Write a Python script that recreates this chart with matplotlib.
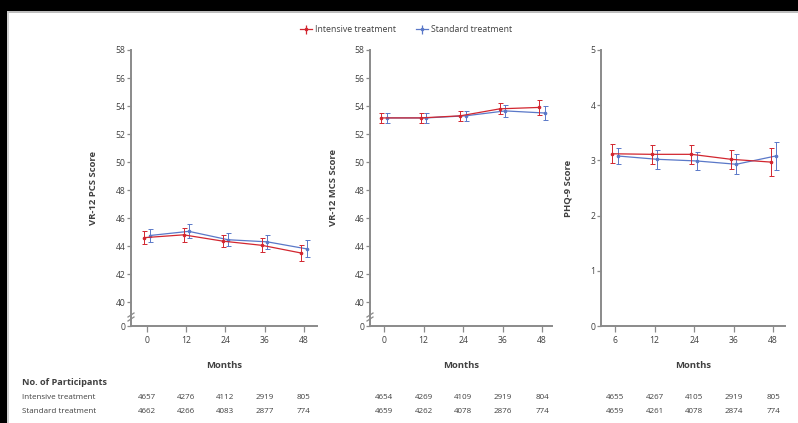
import matplotlib
matplotlib.use("Agg")
import matplotlib.pyplot as plt
from matplotlib.patches import Rectangle
from matplotlib.lines import Line2D
import matplotlib.transforms as mtrans

plt.rcParams['font.family'] = ['Open Sans', 'DejaVu Sans']

months = [0, 12, 24, 36, 48]
xlabels_pcs = ["0", "12", "24", "36", "48"]
xlabels_mcs = ["0", "12", "24", "36", "48"]
xlabels_phq = ["6", "12", "24", "36", "48"]

pcs_int = [44.6, 44.8, 44.35, 44.05, 43.5]
pcs_int_err = [0.45, 0.5, 0.45, 0.5, 0.6]
pcs_std = [44.75, 45.05, 44.45, 44.3, 43.8]
pcs_std_err = [0.45, 0.5, 0.45, 0.5, 0.6]

mcs_int = [53.15, 53.15, 53.3, 53.8, 53.9]
mcs_int_err = [0.35, 0.35, 0.35, 0.4, 0.55]
mcs_std = [53.15, 53.15, 53.3, 53.65, 53.5]
mcs_std_err = [0.35, 0.35, 0.35, 0.4, 0.5]

phq_int = [3.12, 3.11, 3.11, 3.02, 2.97]
phq_int_err = [0.17, 0.17, 0.17, 0.17, 0.25]
phq_std = [3.08, 3.02, 2.99, 2.93, 3.08]
phq_std_err = [0.15, 0.17, 0.17, 0.18, 0.25]

n_int = [[4657, 4276, 4112, 2919, 805],
         [4654, 4269, 4109, 2919, 804],
         [4655, 4267, 4105, 2919, 805]]
n_std = [[4662, 4266, 4083, 2877, 774],
         [4659, 4262, 4078, 2876, 774],
         [4659, 4261, 4078, 2874, 774]]

RED = '#d2262f'
BLUE = '#5a78c8'
GREY = '#8a8a8a'
TXT = '#404040'

W, H = 798, 423
fig = plt.figure(figsize=(W/100, H/100), dpi=100)

def fx(px):
    return px / W

def fy(py):
    return 1 - py / H

panels = [
    dict(left=131, right=317, ylim=(38.29, 58), yticks=[38.29] + list(range(40, 59, 2)),
         yticklabels=["0"] + [str(v) for v in range(40, 59, 2)], xlim=(-4.9, 52),
         ylabel="VR-12 PCS Score", ylab_x=98, broken=True,
         data=(pcs_int, pcs_int_err, pcs_std, pcs_std_err), xl=xlabels_pcs),
    dict(left=370, right=552, ylim=(38.29, 58), yticks=[38.29] + list(range(40, 59, 2)),
         yticklabels=["0"] + [str(v) for v in range(40, 59, 2)], xlim=(-4.25, 51),
         ylabel="VR-12 MCS Score", ylab_x=338, broken=True,
         data=(mcs_int, mcs_int_err, mcs_std, mcs_std_err), xl=xlabels_mcs),
    dict(left=601, right=785, ylim=(0, 5), yticks=[0, 1, 2, 3, 4, 5],
         yticklabels=["0", "1", "2", "3", "4", "5"], xlim=(-4.25, 51.6),
         ylabel="PHQ-9 Score", ylab_x=572, broken=False,
         data=(phq_int, phq_int_err, phq_std, phq_std_err), xl=xlabels_phq),
]

top_px, bot_px = 50, 326
axes = []
for i, p in enumerate(panels):
    ax = fig.add_axes([fx(p['left']), fy(bot_px), fx(p['right'] - p['left']), (bot_px - top_px) / H])
    axes.append(ax)
    yi, yie, ys, yse = p['data']
    d = 0.8
    xi = [m - d for m in months]
    xs = [m + d for m in months]
    ax.errorbar(xs, ys, yerr=yse, color=BLUE, lw=0.9, elinewidth=0.7, capsize=1.8,
                capthick=0.7, marker='o', ms=1.6, zorder=3)
    ax.errorbar(xi, yi, yerr=yie, color=RED, lw=0.9, elinewidth=0.7, capsize=1.8,
                capthick=0.7, marker='o', ms=1.6, zorder=4)
    ax.set_xlim(*p['xlim'])
    ax.set_ylim(*p['ylim'])
    ax.set_yticks(p['yticks'])
    ax.set_yticklabels(p['yticklabels'])
    ax.set_xticks(months)
    ax.set_xticklabels(p['xl'])
    for s in ['top', 'right']:
        ax.spines[s].set_visible(False)
    for s in ['left', 'bottom']:
        ax.spines[s].set_color(GREY)
        ax.spines[s].set_linewidth(1.4)
    ax.tick_params(axis='both', colors=GREY, labelcolor=TXT, labelsize=6.2, width=0.9)
    ax.tick_params(axis='y', length=3, pad=1)
    ax.tick_params(axis='x', length=4, pad=3)
    ax.set_facecolor('none')
    ax.set_ylabel(p['ylabel'], fontsize=6.8, fontweight='bold', color=TXT)
    ax.yaxis.set_label_coords((p['ylab_x'] - p['left']) / (p['right'] - p['left']), 0.5)
    ax.set_xlabel("Months", fontsize=6.8, fontweight='bold', color=TXT)
    ax.xaxis.set_label_coords(0.5, -(361 - bot_px) / (bot_px - top_px))
    if p['broken']:
        for yy in (315, 319):
            fig.add_artist(Line2D([fx(p['left'] - 3), fx(p['left'] + 3)],
                                  [fy(yy + 2), fy(yy - 2)], color=GREY, lw=0.9))
    # participants
    tr = mtrans.blended_transform_factory(ax.transData, fig.transFigure)
    for j, m in enumerate(months):
        fig.text(m, fy(397), str(n_int[i][j]), transform=tr, ha='center', va='center',
                 fontsize=5.8, color=TXT)
        fig.text(m, fy(411), str(n_std[i][j]), transform=tr, ha='center', va='center',
                 fontsize=5.8, color=TXT)

fig.text(fx(22), fy(382), "No. of Participants", fontsize=6.6, fontweight='bold',
         color=TXT, ha='left', va='center')
fig.text(fx(22), fy(397), "Intensive treatment", fontsize=5.8, color=TXT, ha='left', va='center')
fig.text(fx(22), fy(411), "Standard treatment", fontsize=5.8, color=TXT, ha='left', va='center')

# legend
h_int = axes[0].errorbar([], [], yerr=[], color=RED, lw=0.9, marker='o', ms=1.6, capsize=0)
h_std = axes[0].errorbar([], [], yerr=[], color=BLUE, lw=0.9, marker='o', ms=1.6, capsize=0)
leg = fig.legend([h_int, h_std], ["Intensive treatment", "Standard treatment"],
                 loc='center', bbox_to_anchor=(fx(406), fy(30)), ncol=2, frameon=False,
                 fontsize=6.3, handlelength=1.4, handletextpad=0.4, columnspacing=2.2)
for t in leg.get_texts():
    t.set_color(TXT)

# black frame
fig.add_artist(Rectangle((0, fy(11)), 1, 11 / H, transform=fig.transFigure,
                         facecolor='black', edgecolor='none', zorder=10))
fig.add_artist(Rectangle((0, 0), 7 / W, 1, transform=fig.transFigure,
                         facecolor='black', edgecolor='none', zorder=10))
fig.add_artist(Line2D([fx(7), 1], [fy(12), fy(12)], color='#b0b0b0', lw=1.2, zorder=9))
fig.add_artist(Line2D([fx(8), fx(8)], [0, fy(11)], color='#c8c8c8', lw=1.2, zorder=9))

fig.savefig("out.png", dpi=100)
